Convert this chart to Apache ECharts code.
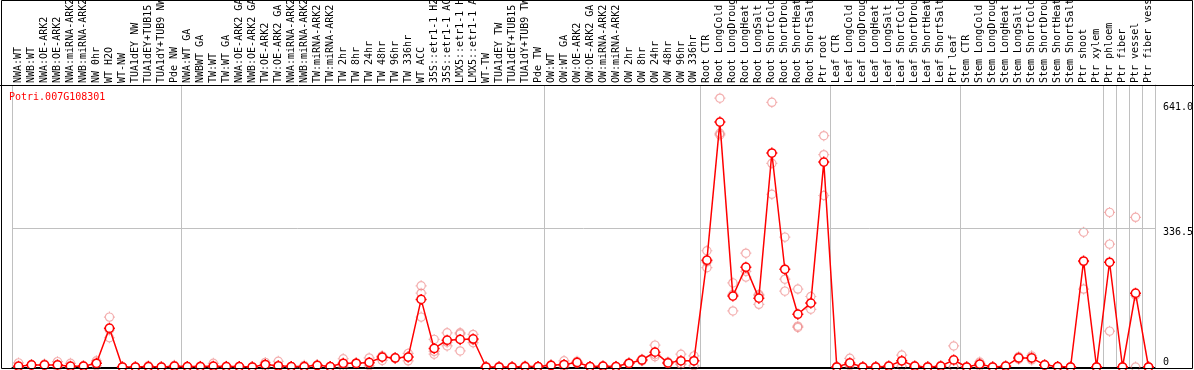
<!DOCTYPE html>
<html>
<head>
<meta charset="utf-8">
<script src="https://cdn.jsdelivr.net/npm/echarts@6/dist/echarts.min.js"></script>
<style>
  html, body { margin: 0; padding: 0; background: #fff; }
  #chart { width: 1194px; height: 370px; }
</style>
</head>
<body>
<div id="chart"></div>
<script>
const geneTitle = 'Potri.007G108301';
const categories = [
  'NWA:WT','NWB:WT','NWA:OE-ARK2','NWB:OE-ARK2','NWA:miRNA-ARK2','NWB:miRNA-ARK2','NW 0hr','WT H2O','WT-NW',
  'TUA1dEY NW','TUA1dEY+TUB15 NW','TUA1dY+TUB9 NW','Pde NW',
  'NWA:WT GA','NWBWT GA','TW:WT','TW:WT GA','NWA:OE-ARK2 GA','NWB:OE-ARK2 GA','TW:OE-ARK2','TW:OE-ARK2 GA',
  'NWA:miRNA-ARK2','NWB:miRNA-ARK2','TW:miRNA-ARK2','TW:miRNA-ARK2','TW 2hr','TW 8hr','TW 24hr','TW 48hr','TW 96hr','TW 336hr',
  'WT ACC','35S::etr1-1 H2O','35S::etr1-1 ACC','LMX5::etr1-1 H2O','LMX5::etr1-1 ACC','WT-TW','TUA1dEY TW','TUA1dEY+TUB15 TW',
  'TUA1dY+TUB9 TW','Pde TW',
  'OW:WT','OW:WT GA','OW:OE-ARK2','OW:OE-ARK2 GA','OW:miRNA-ARK2','OW:miRNA-ARK2','OW 2hr','OW 8hr','OW 24hr','OW 48hr','OW 96hr','OW 336hr',
  'Root CTR','Root LongCold','Root LongDrought','Root LongHeat','Root LongSalt','Root ShortCold','Root ShortDrought','Root ShortHeat','Root ShortSalt','Ptr root',
  'Leaf CTR','Leaf LongCold','Leaf LongDrought','Leaf LongHeat','Leaf LongSalt','Leaf ShortCold','Leaf ShortDrought','Leaf ShortHeat','Leaf ShortSalt','Ptr leaf',
  'Stem CTR','Stem LongCold','Stem LongDrought','Stem LongHeat','Stem LongSalt','Stem ShortCold','Stem ShortDrought','Stem ShortHeat','Stem ShortSalt',
  'Ptr shoot','Ptr xylem','Ptr phloem','Ptr fiber','Ptr vessel','Ptr fiber vessel'
];
const meanValues = [
  2,5,5,5,2,2,9,94,0,0,
  1,0,2,1,1,2,1,1,0,6,
  3,1,1,4,1,9,9,11,24,22,
  24,164,45,65,67,68,0,0,0,1,
  1,4,6,11,1,2,1,9,17,36,
  10,15,15,259,594,172,242,167,519,237,
  128,155,497,0,10,0,0,2,15,2,
  0,2,17,0,7,0,2,22,22,5,
  1,0,257,0,254,0,179,0
];
const rep1 = [
  10,6,7,13,9,3,15,121,0,0,
  3,0,4,1,2,9,2,1,0,11,
  14,1,4,5,1,20,10,22,27,23,
  33,197,67,83,83,79,0,1,0,3,
  1,5,15,14,1,3,2,10,19,53,
  12,31,27,282,652,204,276,176,642,315,
  189,171,561,1,21,0,1,3,29,3,
  1,3,51,0,12,0,3,25,27,6,
  1,0,327,0,375,0,363,0
];
const rep2 = [
  0,5,4,5,0,2,9,90,0,0,
  0,0,2,1,1,0,1,1,0,6,
  0,1,0,4,1,6,9,9,25,22,
  24,179,38,60,80,66,0,0,0,0,
  1,4,3,10,1,2,1,9,17,30,
  10,7,15,255,563,176,232,173,494,213,
  99,155,515,0,6,0,0,2,14,2,
  0,2,0,0,7,0,2,22,22,5,
  1,0,255,0,298,0,174,0
];
const rep3 = [
  0,4,4,0,0,1,3,71,0,0,
  0,0,0,1,0,0,0,1,0,1,
  0,1,0,3,1,0,8,3,16,21,
  15,121,31,51,39,59,0,0,0,0,
  1,3,0,9,1,1,0,8,15,25,
  8,7,3,241,567,136,218,152,419,184,
  96,140,416,0,3,0,0,1,2,1,
  0,1,0,0,2,0,1,19,17,4,
  1,0,189,0,87,0,0,0
];
const yTickValues = [0, 336.5, 641];
const midGridValue = 336.5;
const groupStarts = [0, 13, 41, 53, 63, 73, 84, 85, 86, 87];

const MONO = 'DejaVu Sans Mono';
const markerPath = 'path://M6,0L6,1.5M6,10.5L6,12M0,6L1.5,6M10.5,6L12,6' +
  'M10.5,6C10.5,8.485 8.485,10.5 6,10.5C3.515,10.5 1.5,8.485 1.5,6C1.5,3.515 3.515,1.5 6,1.5C8.485,1.5 10.5,3.515 10.5,6Z';

const repSeries = [rep1, rep2, rep3].map(function (arr) {
  return {
    type: 'scatter',
    data: arr,
    symbol: markerPath,
    symbolSize: 11,
    z: 2,
    silent: true,
    itemStyle: { color: 'rgba(0,0,0,0)', borderColor: 'rgba(235,120,120,0.75)', borderWidth: 1.2 }
  };
});

const chart = echarts.init(document.getElementById('chart'), null, { renderer: 'canvas' });
chart.setOption({
  animation: false,
  backgroundColor: '#fff',
  title: {
    text: geneTitle,
    left: 9, top: 92,
    padding: 0,
    textStyle: { color: '#ff0000', fontFamily: MONO, fontSize: 10, fontWeight: 'normal' }
  },
  grid: { left: 12, right: 39, top: 85, bottom: 3, containLabel: false, outerBoundsMode: 'none' },
  xAxis: {
    type: 'category',
    position: 'top',
    data: categories,
    boundaryGap: true,
    axisLine: { show: true, lineStyle: { color: '#000', width: 1 } },
    axisTick: { show: false },
    axisLabel: { interval: 0, rotate: 90, margin: 2, color: '#000', fontFamily: MONO, fontSize: 10, hideOverlap: false },
    splitLine: {
      show: true,
      interval: function (idx) { return groupStarts.indexOf(idx) >= 0; },
      lineStyle: { color: '#c0c0c0', width: 1 }
    }
  },
  yAxis: {
    type: 'value',
    position: 'right',
    min: 0, max: 684,
    axisLine: { show: true, lineStyle: { color: '#c0c0c0', width: 1 } },
    axisTick: { show: false },
    splitLine: { show: false },
    axisLabel: {
      customValues: yTickValues,
      margin: 8,
      color: '#000',
      fontFamily: MONO,
      fontSize: 10,
      formatter: function (v) {
        return v === 0 ? '{z|0}' : '{t|' + v.toFixed(1) + '}';
      },
      rich: {
        z: { fontFamily: MONO, fontSize: 10, color: '#000', padding: [0, 0, 10, 0] },
        t: { fontFamily: MONO, fontSize: 10, color: '#000', padding: [9, 0, 0, 0] }
      }
    }
  },
  graphic: [
    { type: 'rect', silent: true, z: 100, shape: { x: 1.5, y: 0.5, width: 1191, height: 368 },
      style: { fill: 'none', stroke: '#000', lineWidth: 1 } },
    { type: 'line', silent: true, z: 100, shape: { x1: 0, y1: 85.5, x2: 1194, y2: 85.5 },
      style: { stroke: '#000', lineWidth: 1 } }
  ],
  series: repSeries.concat([{
    type: 'line',
    data: meanValues,
    symbol: markerPath,
    symbolSize: 11,
    showAllSymbol: true,
    z: 5,
    silent: true,
    lineStyle: { color: '#ff0000', width: 1.5 },
    itemStyle: { color: '#ffffff', borderColor: '#ff0000', borderWidth: 1.5 },
    markLine: {
      silent: true,
      symbol: 'none',
      label: { show: false },
      lineStyle: { color: '#c0c0c0', width: 1, type: 'solid' },
      data: [{ yAxis: midGridValue }]
    }
  }])
});
</script>
</body>
</html>
